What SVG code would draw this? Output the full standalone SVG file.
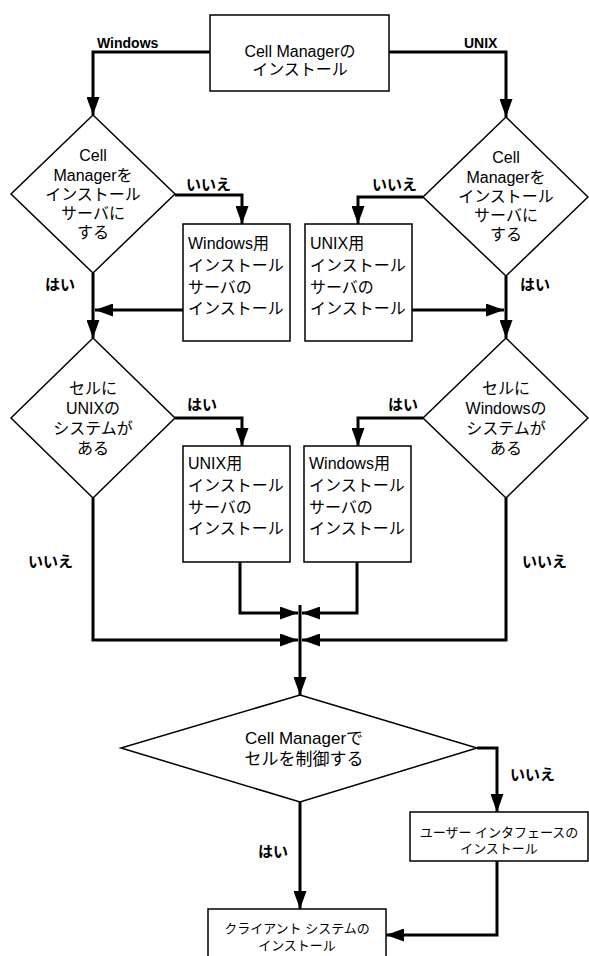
<svg xmlns="http://www.w3.org/2000/svg" width="589" height="956" viewBox="0 0 589 956">
<style>
.shape{fill:#fff;stroke:#000;stroke-width:1.5}
.conn{fill:none;stroke:#000;stroke-width:3;marker-end:url(#arr)}
text{font-family:"Liberation Sans","Noto Sans CJK JP",sans-serif;fill:#000}
.t{font-size:16px}
.b{font-size:17px}
.c{text-anchor:middle}
.s{font-size:13px}
.lbl{font-size:15px;font-weight:bold}
.lblw{font-size:14px;font-weight:bold}
</style>
<defs>
<marker id="arr" markerUnits="userSpaceOnUse" markerWidth="18" markerHeight="13" refX="18" refY="6.5" orient="auto">
<path d="M0,0 L18,6.5 L0,13 z" fill="#000"/>
</marker>
</defs>
<rect width="589" height="956" fill="#fff"/>
<g id="connectors">
<path class="conn" d="M210,52 H93 V115"/>
<path class="conn" d="M389,52 H506 V117"/>
<path class="conn" d="M175,195 H242 V224"/>
<path class="conn" d="M423,197 H358 V224"/>
<path class="conn" d="M93,273 V338"/>
<path class="conn" d="M506,276 V338"/>
<path class="conn" d="M183,310 H95"/>
<path class="conn" d="M412,310 H504"/>
<path class="conn" d="M175,418 H242 V446"/>
<path class="conn" d="M423,418 H358 V446"/>
<path class="conn" d="M240,562 V613 H298"/>
<path class="conn" d="M93,498 V640 H298"/>
<path class="conn" d="M357,562 V613 H302"/>
<path class="conn" d="M506,498 V640 H302"/>
<path class="conn" d="M300,605 V695"/>
<path class="conn" d="M477,748 H497 V812"/>
<path class="conn" d="M300,802 V909"/>
<path class="conn" d="M497,861 V935 H386"/>
<text class="lblw" x="97" y="48">Windows</text>
<text class="lblw" x="464" y="48">UNIX</text>
<text class="lbl" x="186" y="190">いいえ</text>
<text class="lbl" x="372" y="190">いいえ</text>
<text class="lbl" x="45" y="290">はい</text>
<text class="lbl" x="520" y="290">はい</text>
<text class="lbl" x="187" y="410">はい</text>
<text class="lbl" x="388" y="410">はい</text>
<text class="lbl" x="28" y="567">いいえ</text>
<text class="lbl" x="522" y="567">いいえ</text>
<text class="lbl" x="510" y="780">いいえ</text>
<text class="lbl" x="258" y="857">はい</text>
</g>
<g id="start">
<rect class="shape" x="210" y="15" width="179" height="76"/>
<text class="t c" x="300" y="57">Cell Managerの</text>
<text class="t c" x="300" y="75">インストール</text>
</g>
<g id="decWin">
<polygon class="shape" points="93,115 175,194 93,273 11,194"/>
<text class="t c" x="93" y="161">Cell</text>
<text class="t c" x="93" y="181">Managerを</text>
<text class="t c" x="93" y="200">インストール</text>
<text class="t c" x="93" y="219">サーバに</text>
<text class="t c" x="93" y="238">する</text>
</g>
<g id="decUnix">
<polygon class="shape" points="506,117 588,197 506,276 423,197"/>
<text class="t c" x="506" y="163">Cell</text>
<text class="t c" x="506" y="183">Managerを</text>
<text class="t c" x="506" y="202">インストール</text>
<text class="t c" x="506" y="221">サーバに</text>
<text class="t c" x="506" y="240">する</text>
</g>
<g id="winIS1">
<rect class="shape" x="183" y="224" width="107" height="117"/>
<text class="t" x="188" y="249">Windows用</text>
<text class="t" x="188" y="271">インストール</text>
<text class="t" x="188" y="293">サーバの</text>
<text class="t" x="188" y="314">インストール</text>
</g>
<g id="unixIS1">
<rect class="shape" x="305" y="224" width="107" height="117"/>
<text class="t" x="310" y="249">UNIX用</text>
<text class="t" x="310" y="271">インストール</text>
<text class="t" x="310" y="293">サーバの</text>
<text class="t" x="310" y="314">インストール</text>
</g>
<g id="decCellUnix">
<polygon class="shape" points="93,338 175,418 93,498 11,418"/>
<text class="t c" x="93" y="394">セルに</text>
<text class="t c" x="93" y="414">UNIXの</text>
<text class="t c" x="93" y="434">システムが</text>
<text class="t c" x="93" y="454">ある</text>
</g>
<g id="decCellWin">
<polygon class="shape" points="506,338 588,418 506,498 423,418"/>
<text class="t c" x="506" y="394">セルに</text>
<text class="t c" x="506" y="414">Windowsの</text>
<text class="t c" x="506" y="434">システムが</text>
<text class="t c" x="506" y="454">ある</text>
</g>
<g id="unixIS2">
<rect class="shape" x="183" y="446" width="107" height="116"/>
<text class="t" x="188" y="469">UNIX用</text>
<text class="t" x="188" y="491">インストール</text>
<text class="t" x="188" y="513">サーバの</text>
<text class="t" x="188" y="534">インストール</text>
</g>
<g id="winIS2">
<rect class="shape" x="304" y="446" width="107" height="116"/>
<text class="t" x="309" y="469">Windows用</text>
<text class="t" x="309" y="491">インストール</text>
<text class="t" x="309" y="513">サーバの</text>
<text class="t" x="309" y="534">インストール</text>
</g>
<g id="decControl">
<polygon class="shape" points="300,695 477,748 300,802 121,748"/>
<text class="b c" x="304" y="744">Cell Managerで</text>
<text class="b c" x="304" y="765">セルを制御する</text>
</g>
<g id="uiInstall">
<rect class="shape" x="410" y="812" width="178" height="49"/>
<text class="s c" x="499" y="837">ユーザー インタフェースの</text>
<text class="s c" x="499" y="853">インストール</text>
</g>
<g id="clientInstall">
<rect class="shape" x="208" y="909" width="178" height="60"/>
<text class="s c" x="297" y="933">クライアント システムの</text>
<text class="s c" x="297" y="950">インストール</text>
</g>
</svg>
